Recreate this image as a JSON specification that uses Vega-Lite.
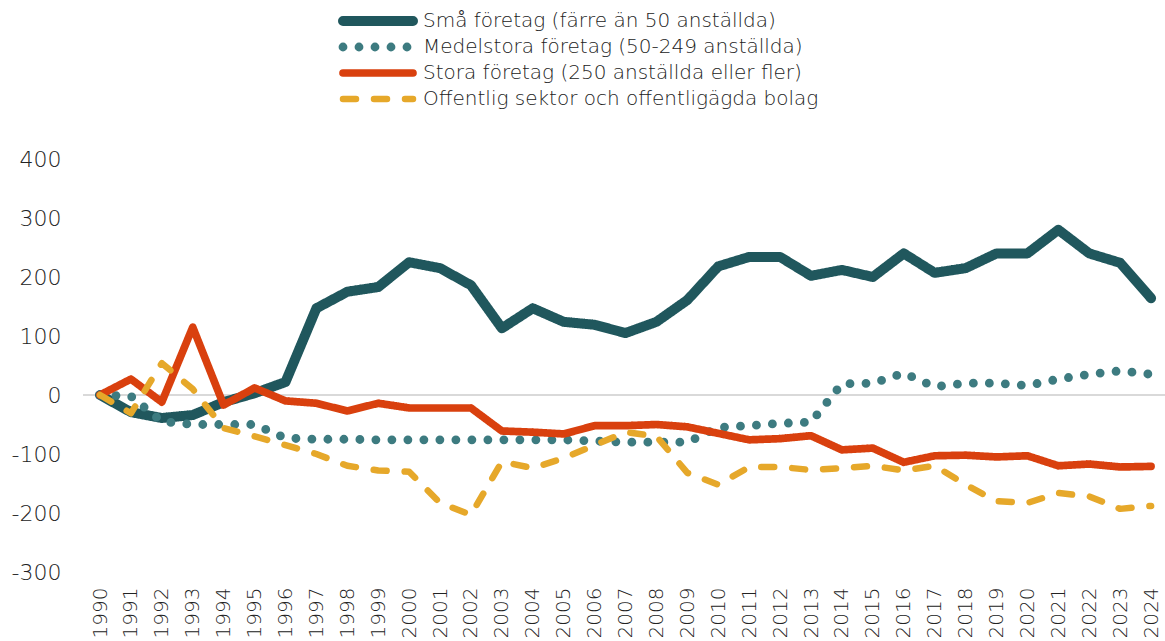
{
  "$schema": "https://vega.github.io/schema/vega-lite/v6.json",
  "autosize": {"type": "none"},
  "width": 1082,
  "height": 413,
  "padding": {"left": 83, "top": 159, "right": 0, "bottom": 69},
  "background": "white",
  "config": {
    "view": {"stroke": null},
    "font": "DejaVu Sans",
    "axis": {"labelFont": "DejaVu Sans", "labelFontWeight": 200, "labelColor": "#222222"}
  },
  "data": {
    "values": [
      {"year": 1990, "s": 0, "m": 0, "l": 0, "o": 0},
      {"year": 1991, "s": -29, "m": -2, "l": 27, "o": -31},
      {"year": 1992, "s": -39, "m": -45, "l": -12, "o": 54},
      {"year": 1993, "s": -34, "m": -50, "l": 115, "o": 10},
      {"year": 1994, "s": -12, "m": -50, "l": -17, "o": -56},
      {"year": 1995, "s": 3, "m": -50, "l": 12, "o": -70},
      {"year": 1996, "s": 22, "m": -73, "l": -10, "o": -85},
      {"year": 1997, "s": 147, "m": -75, "l": -14, "o": -100},
      {"year": 1998, "s": 175, "m": -75, "l": -27, "o": -120},
      {"year": 1999, "s": 183, "m": -76, "l": -14, "o": -128},
      {"year": 2000, "s": 225, "m": -76, "l": -22, "o": -130},
      {"year": 2001, "s": 215, "m": -76, "l": -22, "o": -183},
      {"year": 2002, "s": 186, "m": -76, "l": -22, "o": -203},
      {"year": 2003, "s": 113, "m": -76, "l": -61, "o": -113},
      {"year": 2004, "s": 147, "m": -76, "l": -63, "o": -124},
      {"year": 2005, "s": 124, "m": -76, "l": -66, "o": -107},
      {"year": 2006, "s": 119, "m": -78, "l": -52, "o": -85},
      {"year": 2007, "s": 105, "m": -80, "l": -52, "o": -63},
      {"year": 2008, "s": 124, "m": -80, "l": -50, "o": -70},
      {"year": 2009, "s": 161, "m": -80, "l": -54, "o": -132},
      {"year": 2010, "s": 218, "m": -55, "l": -65, "o": -152},
      {"year": 2011, "s": 234, "m": -52, "l": -76, "o": -122},
      {"year": 2012, "s": 234, "m": -48, "l": -74, "o": -122},
      {"year": 2013, "s": 202, "m": -46, "l": -69, "o": -127},
      {"year": 2014, "s": 212, "m": 19, "l": -93, "o": -124},
      {"year": 2015, "s": 200, "m": 20, "l": -90, "o": -120},
      {"year": 2016, "s": 240, "m": 37, "l": -114, "o": -128},
      {"year": 2017, "s": 207, "m": 14, "l": -103, "o": -120},
      {"year": 2018, "s": 215, "m": 20, "l": -102, "o": -152},
      {"year": 2019, "s": 240, "m": 20, "l": -105, "o": -180},
      {"year": 2020, "s": 240, "m": 16, "l": -103, "o": -183},
      {"year": 2021, "s": 280, "m": 27, "l": -120, "o": -166},
      {"year": 2022, "s": 240, "m": 35, "l": -117, "o": -172},
      {"year": 2023, "s": 224, "m": 41, "l": -122, "o": -193},
      {"year": 2024, "s": 164, "m": 35, "l": -121, "o": -188}
    ]
  },
  "layer": [
    {
      "mark": {"type": "rule", "color": "#d9d9d9", "strokeWidth": 2},
      "encoding": {"y": {"datum": 0, "type": "quantitative"}}
    },
    {
      "transform": [
        {"fold": ["s", "m", "l", "o"], "as": ["key", "value"]},
        {"lookup": "key", "from": {"data": {"values": [
          {"key": "s", "series": "Små företag (färre än 50 anställda)"},
          {"key": "m", "series": "Medelstora företag (50-249 anställda)"},
          {"key": "l", "series": "Stora företag (250 anställda eller fler)"},
          {"key": "o", "series": "Offentlig sektor och offentligägda bolag"}
        ]}, "key": "key", "fields": ["series"]}}
      ],
      "mark": {"type": "line", "strokeCap": "round", "strokeJoin": "round"},
      "encoding": {
        "x": {
          "field": "year", "type": "quantitative",
          "scale": {"domain": [1989.45, 2024.45], "nice": false, "zero": false},
          "axis": {
            "values": [1990,1991,1992,1993,1994,1995,1996,1997,1998,1999,2000,2001,2002,2003,2004,2005,2006,2007,2008,2009,2010,2011,2012,2013,2014,2015,2016,2017,2018,2019,2020,2021,2022,2023,2024],
            "format": "d", "labelAngle": -90, "domain": false, "ticks": false, "grid": false,
            "labelPadding": 15, "labelFontSize": 20, "title": null, "labelFlush": false, "labelOverlap": false, "labelBaseline": "middle"
          }
        },
        "y": {
          "field": "value", "type": "quantitative",
          "scale": {"domain": [-300, 400], "nice": false},
          "axis": {"values": [-300,-200,-100,0,100,200,300,400], "labelExpr": "datum.value < 0 ? '-' + abs(datum.value) : '' + datum.value", "domain": false, "ticks": false, "grid": false, "labelPadding": 22, "labelFontSize": 22, "title": null}
        },
        "color": {
          "field": "series", "type": "nominal",
          "scale": {
            "domain": ["Små företag (färre än 50 anställda)", "Medelstora företag (50-249 anställda)", "Stora företag (250 anställda eller fler)", "Offentlig sektor och offentligägda bolag"],
            "range": ["#20575d", "#3d7b80", "#d9400e", "#e6a82a"]
          },
          "legend": {
            "title": null, "orient": "none", "legendX": 255, "legendY": -151,
            "symbolType": "stroke", "symbolSize": 4900, "clipHeight": 26, "labelFontSize": 20, "labelFont": "DejaVu Sans", "labelFontWeight": 200,
            "labelColor": "#222222", "rowPadding": 0, "labelOffset": 5, "labelLimit": 600, "direction": "vertical",
            "encode": {"symbols": {"update": {"strokeCap": {"value": "round"}}}}
          }
        },
        "strokeDash": {
          "field": "series", "type": "nominal",
          "scale": {
            "domain": ["Små företag (färre än 50 anställda)", "Medelstora företag (50-249 anställda)", "Stora företag (250 anställda eller fler)", "Offentlig sektor och offentligägda bolag"],
            "range": [[1, 0], [0, 16], [1, 0], [13, 18]]
          },
          "legend": {"title": null}
        },
        "strokeWidth": {
          "field": "series", "type": "ordinal",
          "scale": {
            "domain": ["Små företag (färre än 50 anställda)", "Medelstora företag (50-249 anställda)", "Stora företag (250 anställda eller fler)", "Offentlig sektor och offentligägda bolag"],
            "range": [10, 6.5, 4, 7.5]
          },
          "legend": {"title": null}
        }
      }
    }
  ]
}
